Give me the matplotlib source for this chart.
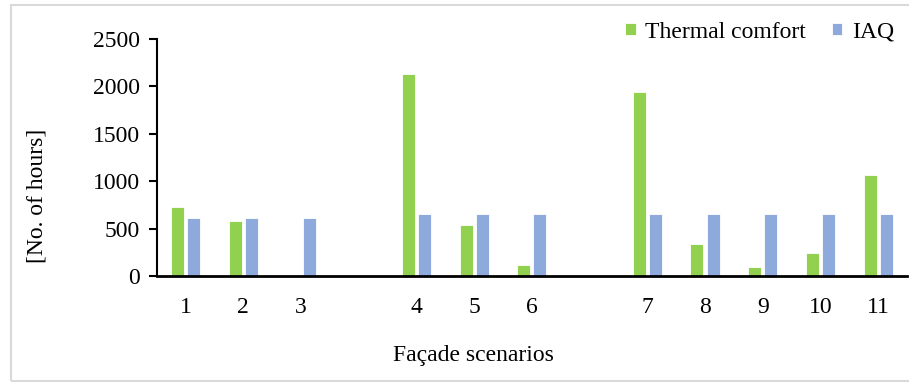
import numpy as np
import matplotlib
matplotlib.use("Agg")
import matplotlib.pyplot as plt
from matplotlib.patches import Rectangle

# Данные
scenarios = ["1", "2", "3", "4", "5", "6", "7", "8", "9", "10", "11"]
group_sizes = [3, 3, 5]
thermal_comfort = [730, 582, 0, 2132, 540, 120, 1938, 340, 93, 245, 1068]
iaq = [608, 608, 608, 650, 650, 650, 650, 650, 650, 650, 650]

GREEN = "#92D050"
BLUE = "#8EA9DB"

plt.rcParams["font.family"] = ["Liberation Serif", "DejaVu Serif"]

# Позиции: одна пустая ячейка между группами
positions = []
slot = 0
for size in group_sizes:
    for i in range(size):
        positions.append(slot)
        slot += 1
    slot += 1
positions = np.array(positions)

fig = plt.figure(figsize=(9.09, 3.83), dpi=100)
ax = fig.add_axes([0.1724, 0.2794, 0.8254, 0.6186])

w = 0.225
off = 0.14
ax.bar(positions - off, thermal_comfort, width=w, color=GREEN,
       edgecolor="white", linewidth=0.6, label="Thermal comfort")
ax.bar(positions + off, iaq, width=w, color=BLUE,
       edgecolor="white", linewidth=0.6, label="IAQ")

ax.set_xlim(-0.5, positions[-1] + 0.5)
ax.set_ylim(0, 2500)
ax.set_yticks(range(0, 2501, 500))
ax.set_xticks(positions)
ax.set_xticklabels(scenarios)
ax.tick_params(axis="y", direction="out", length=6, width=1.5, labelsize=17, pad=6)
ax.tick_params(axis="x", length=0, labelsize=17, pad=15)

for side in ["top", "right"]:
    ax.spines[side].set_visible(False)
ax.spines["left"].set_linewidth(1.5)
ax.spines["bottom"].set_linewidth(2)

fig.text(37 / 909, 1 - 196 / 383, "[No. of hours]", rotation=90,
         ha="center", va="center", fontsize=17)
fig.text(473 / 909, 1 - 355 / 383, "Façade scenarios",
         ha="center", va="center", fontsize=17)

ax.legend(loc="center right", bbox_to_anchor=(894 / 909, 1 - 32 / 383),
          bbox_transform=fig.transFigure, ncol=2, frameon=False,
          fontsize=17, handlelength=0.45, handleheight=0.45,
          handletextpad=0.4, columnspacing=1.1, borderpad=0, borderaxespad=0)

# Рамка вокруг рисунка
fig.patches.append(Rectangle((11 / 909, 2 / 383), 1.0, 1 - 7 / 383,
                             transform=fig.transFigure, fill=False,
                             edgecolor="#D9D9D9", linewidth=1.5))

fig.savefig("out.png", dpi=100)
